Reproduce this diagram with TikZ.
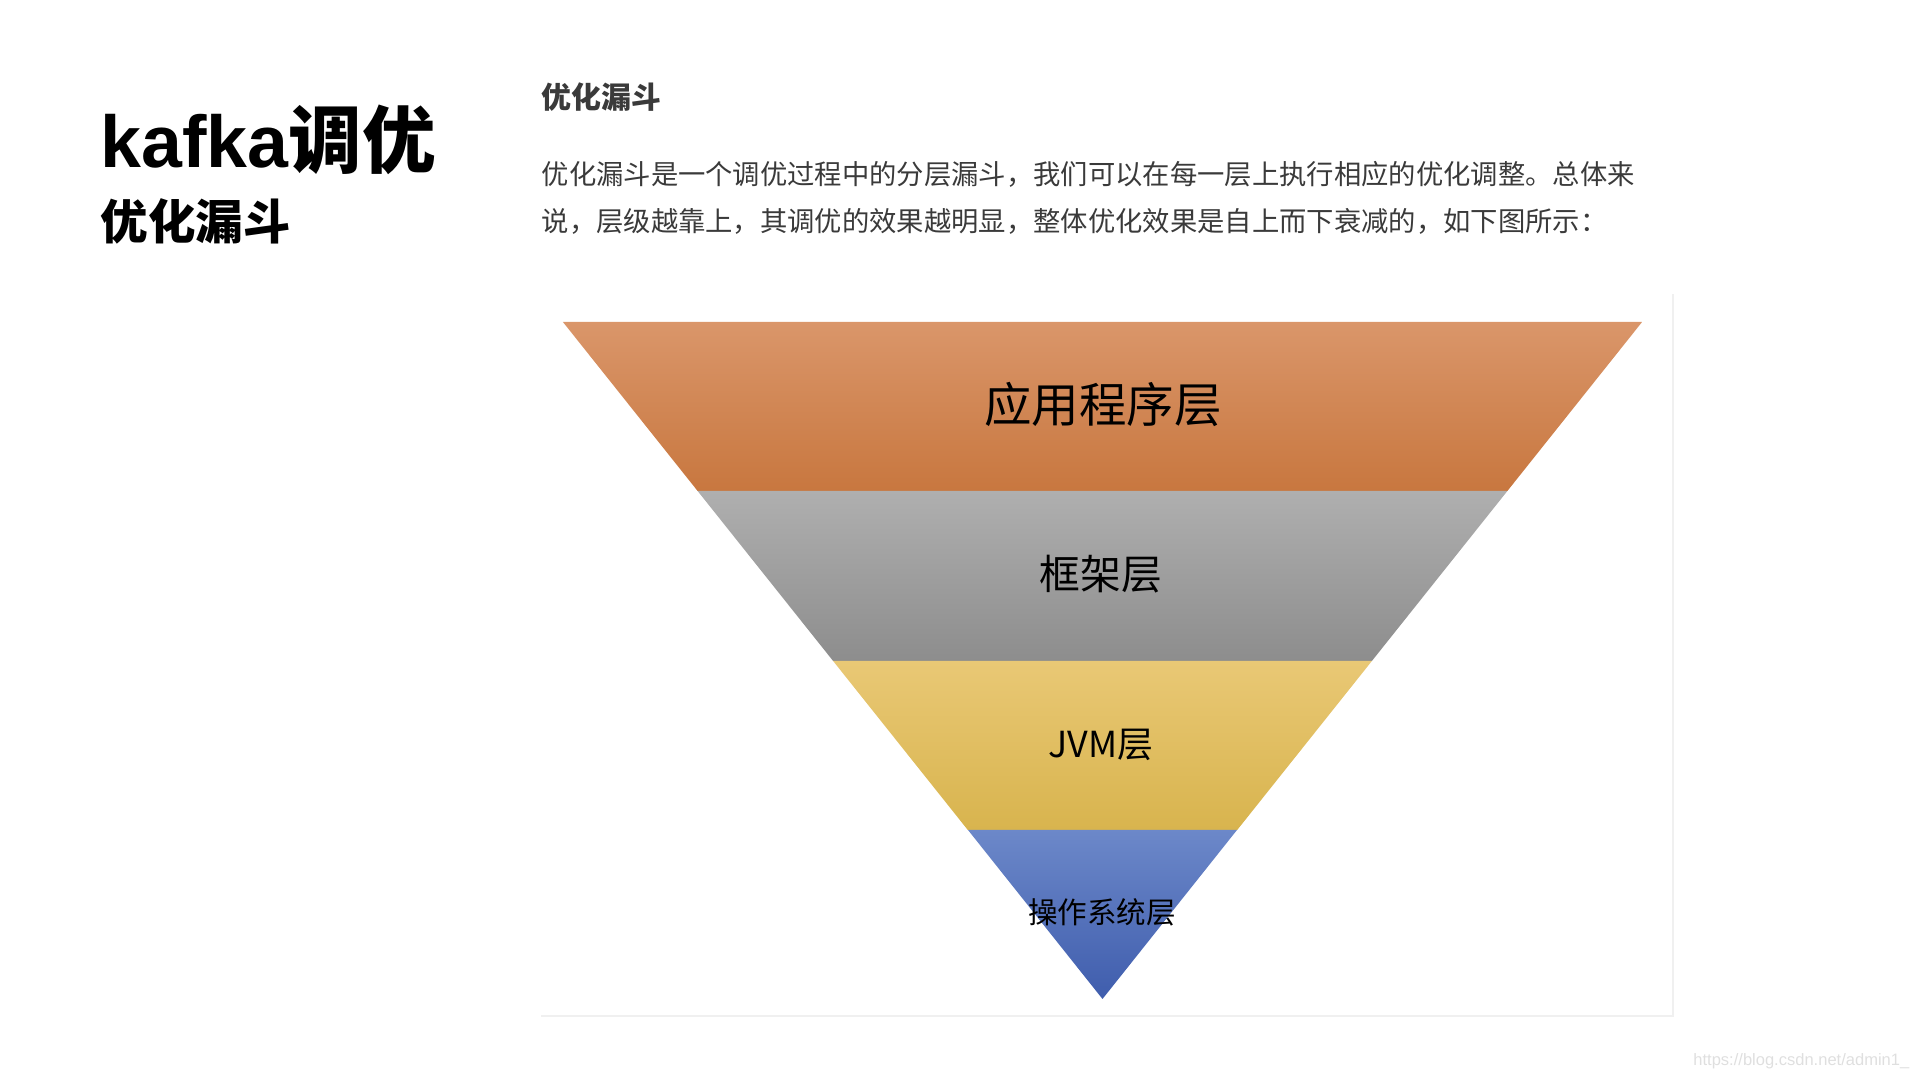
\documentclass[tikz,border=0pt]{standalone}
\usepackage{fontspec}
\setmainfont{Noto Sans CJK SC}
\newfontfamily\latinfont{Liberation Sans}
\usetikzlibrary{positioning}
\definecolor{textgray}{HTML}{3A3A3A}
\definecolor{framegray}{HTML}{F0F0F0}
\definecolor{apptop}{HTML}{DA966A}
\definecolor{appbot}{HTML}{C8773F}
\definecolor{frmtop}{HTML}{AFAFAF}
\definecolor{frmbot}{HTML}{8D8D8D}
\definecolor{jvmtop}{HTML}{E9C875}
\definecolor{jvmbot}{HTML}{D8B44E}
\definecolor{ostop}{HTML}{6C88C9}
\definecolor{osbot}{HTML}{3F5DAD}

\begin{document}
\begin{tikzpicture}[x=0.01cm,y=-0.01cm]
  \useasboundingbox (0,0) rectangle (1920,1080);
  % frame of the figure
  \draw[framegray,line width=0.4pt] (1673,294) -- (1673,1016) -- (541,1016);
  % funnel bands
  \foreach \t/\b/\col in {322/491/app,491/661/frm,661/830/jvm}
    \shade[top color=\col top,bottom color=\col bot] ({1102.5-(999-\t)*0.797},\t) -- ({1102.5+(999-\t)*0.797},\t)
      -- ({1102.5+(999-\b)*0.797},\b) -- ({1102.5-(999-\b)*0.797},\b) -- cycle;
  \shade[top color=ostop,bottom color=osbot] (968,830) -- (1237,830) -- (1102.5,999) -- cycle;
  \node[font=\fontsize{13.5}{16}\selectfont] (app) at (1103,404) {应用程序层};
  \node[font=\fontsize{11.6}{14}\selectfont] (frm) at (1101,574) {框架层};
  \node[font=\fontsize{10.2}{12}\selectfont] (jvm) at (1101,745) {JVM层};
  \node[font=\fontsize{8.4}{10}\selectfont] (os) at (1102,912) {操作系统层};
  % titles and text
  \node[anchor=base west,inner sep=0,font=\bfseries\fontsize{20.9}{25}\selectfont] (title) at (100,168) {{\latinfont kafka}调优};
  \node[anchor=base west,inner sep=0,font=\bfseries\fontsize{13.5}{16}\selectfont] (sub) at (100,240) {优化漏斗};
  \node[anchor=base west,inner sep=0,textgray,font=\bfseries\fontsize{8.5}{10}\selectfont] (head) at (541,109) {优化漏斗};
  \node[anchor=base west,inner sep=0,textgray,font=\fontsize{7.77}{9}\selectfont] (line1) at (541,185)
    {优化漏斗是一个调优过程中的分层漏斗，我们可以在每一层上执行相应的优化调整。总体来};
  \node[anchor=base west,inner sep=0,textgray,font=\fontsize{7.77}{9}\selectfont] (line2) at (541,232)
    {说，层级越靠上，其调优的效果越明显，整体优化效果是自上而下衰减的，如下图所示：};
  \node[anchor=base east,inner sep=0,gray!25,font=\latinfont\fontsize{4.7}{6}\selectfont] (mark) at (1910,1066) {https://blog.csdn.net/admin1\_};
\end{tikzpicture}
\end{document}
